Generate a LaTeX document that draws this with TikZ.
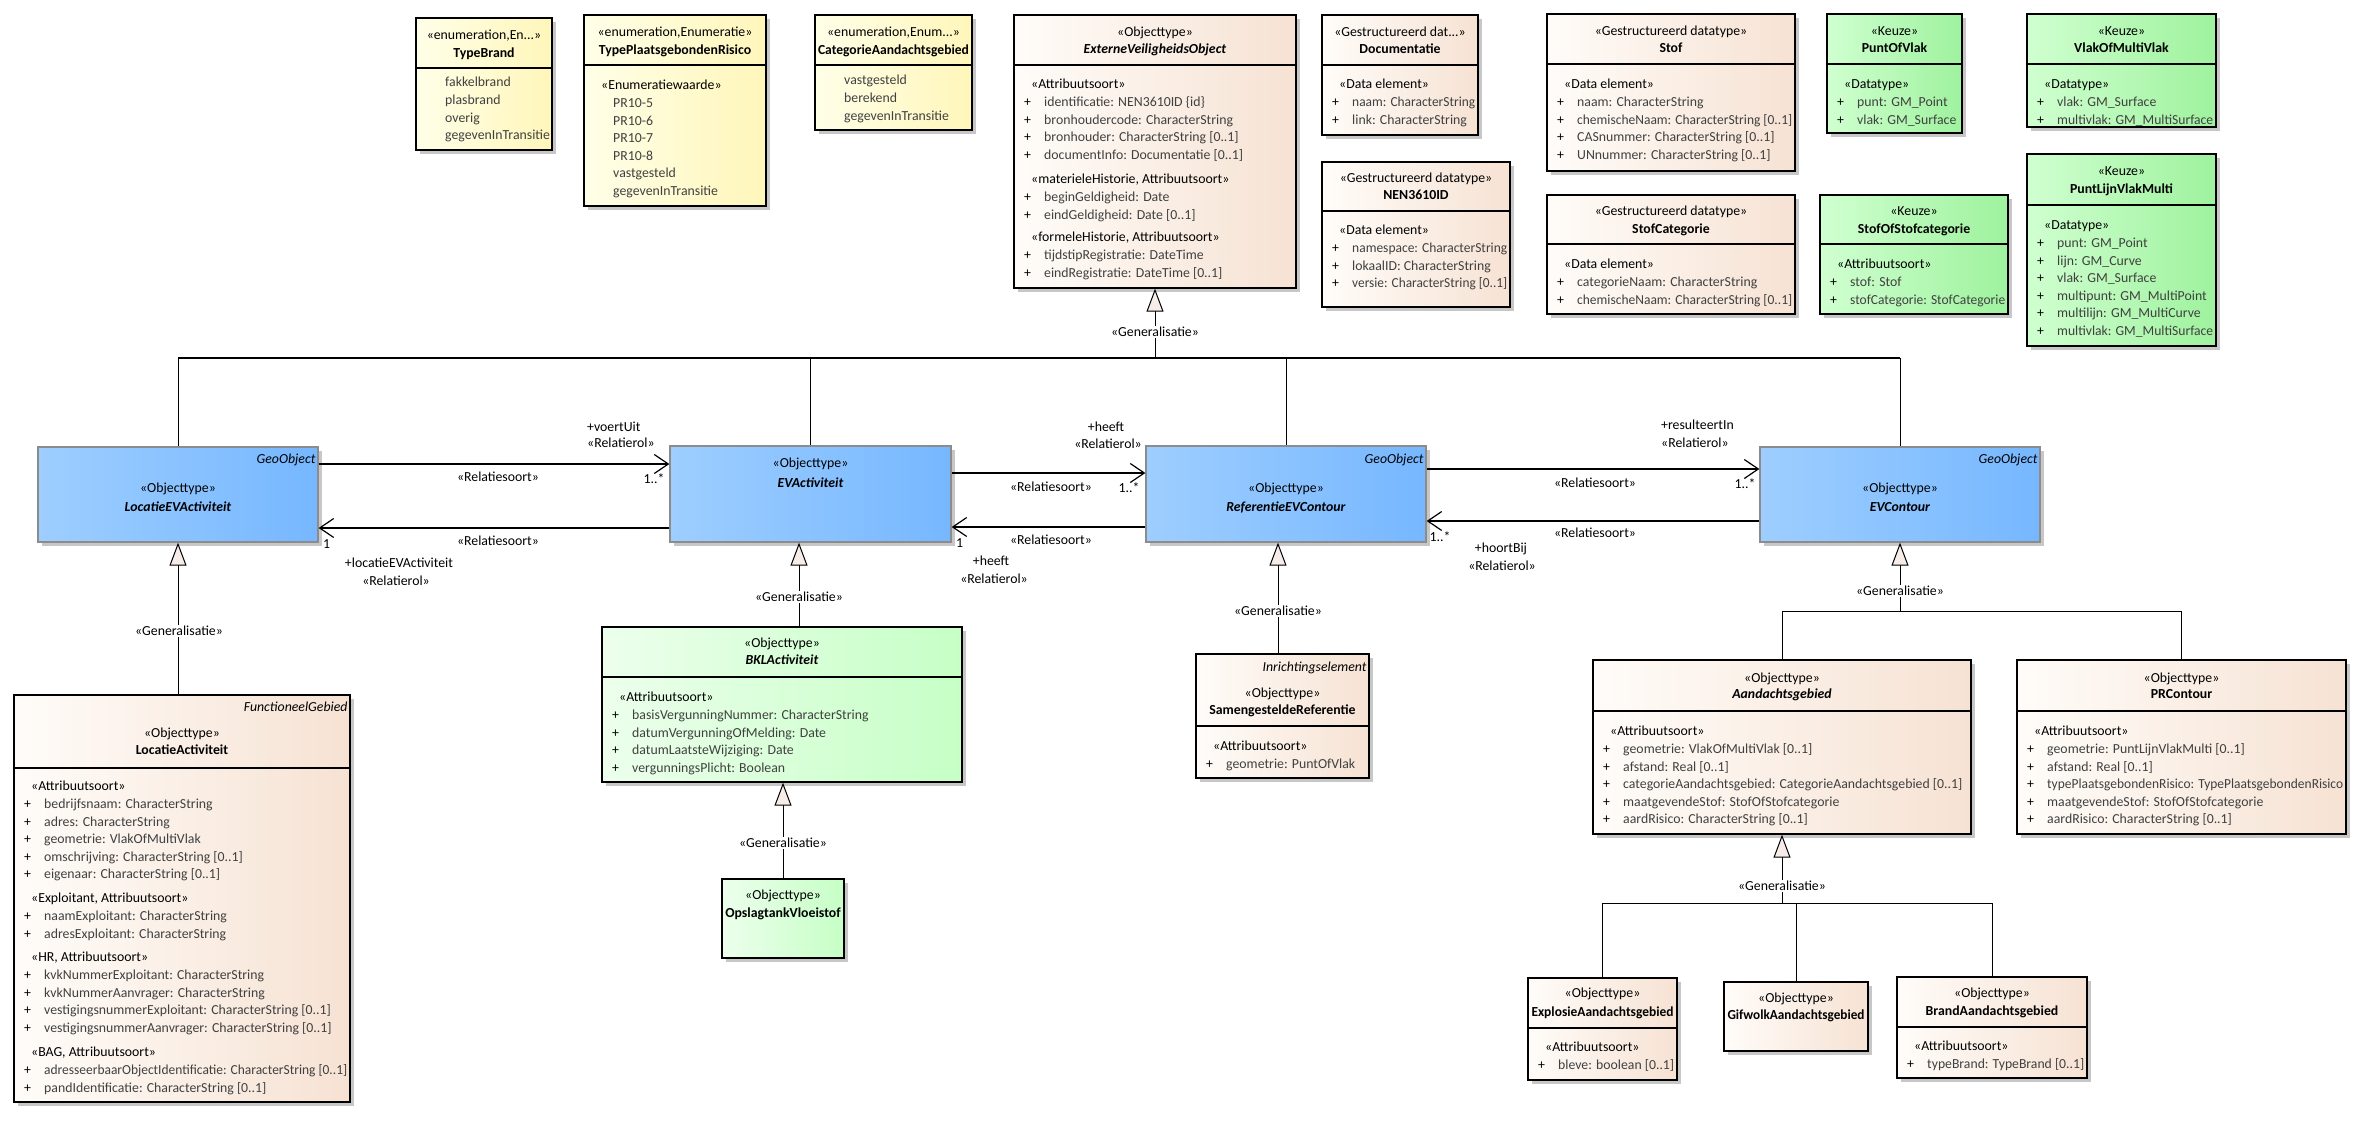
\documentclass[tikz,border=0pt]{standalone}
\usepackage{fontspec}
\setmainfont{Carlito}
\usepackage{graphicx}
\usetikzlibrary{arrows.meta,fit,shadows}

\definecolor{enumL}{RGB}{255,255,232}
\definecolor{enumR}{RGB}{255,246,186}
\definecolor{peachL}{RGB}{255,252,249}
\definecolor{peachR}{RGB}{246,226,211}
\definecolor{blueL}{RGB}{158,206,255}
\definecolor{blueR}{RGB}{118,183,255}
\definecolor{lgreenL}{RGB}{236,255,236}
\definecolor{lgreenR}{RGB}{198,255,198}
\definecolor{keuzeL}{RGB}{208,255,208}
\definecolor{keuzeR}{RGB}{158,242,158}
\definecolor{trif}{RGB}{246,236,232}
\definecolor{attrc}{RGB}{64,64,64}

\newsavebox\fitbox
\newcommand\fitw[2]{\sbox\fitbox{#2}\ifdim\wd\fitbox>#1\relax\resizebox{#1}{\height}{#2}\else\usebox\fitbox\fi}
\newcommand\stp[1]{\hspace*{7pt}«#1»}
\def\rowmax{500pt}
\newcommand\atr[1]{\makebox[20pt][l]{+}\textcolor{attrc}{\fitw{\rowmax}{#1}}}
\newcommand\enmi[1]{\hspace*{19pt}\textcolor{attrc}{#1}}

\newcount\rowc
\def\rowend{\relax}
\def\rowendm{\rowend}
\newcommand\umlrows[5]{\def\rown{#1}\def\rowx{#2}\def\rowy{#3}\edef\rowmax{\the\dimexpr #4pt-#2pt-23pt\relax}\rowc=0 \rowloop#5|\rowend|}
\def\rowloop#1|{\def\rowarg{#1}\ifx\rowarg\rowendm\let\rownext\relax\else\def\rownext{\rownode{#1}\advance\rowc by 1 \rowloop}\fi\rownext}
\def\rownode#1{\node[lt] (\rown-\the\rowc) at ({\rowx},{\rowy+17.6*\the\rowc+4.8}) {#1};}
\newcommand\hdiv[2]{\draw[divline] (#1.west |- 0,#2) -- (#1.east |- 0,#2);}

\tikzset{
  box/.style={draw=black, line width=1.3pt, inner sep=0pt,
    drop shadow={shadow xshift=4pt, shadow yshift=-4pt, fill=black!22, opacity=1}},
  enumbox/.style={box, left color=enumL, right color=enumR},
  peachbox/.style={box, left color=peachL, right color=peachR},
  bluebox/.style={box, draw=black!45, left color=blueL, right color=blueR},
  greenbox/.style={box, left color=lgreenL, right color=lgreenR},
  keuzebox/.style={box, left color=keuzeL, right color=keuzeR},
  divline/.style={draw=black, line width=1.3pt},
  hd/.style={anchor=base, inner sep=0pt, yshift=-4.8pt},
  tag/.style={anchor=base east, inner sep=0pt, xshift=-3pt, yshift=-4.8pt, font=\fontsize{13.8pt}{16pt}\selectfont\itshape},
  lt/.style={anchor=base west, inner sep=0pt},
  rl/.style={anchor=base, inner sep=0pt, yshift=-4.8pt},
  rlw/.style={anchor=base west, inner sep=0pt, yshift=-4.8pt},
  genlab/.style={fill=white, inner sep=1.5pt, anchor=center},
  gen/.style={draw=black, line width=1pt, -{Triangle[length=23pt, width=17pt, fill=trif]}},
  tree/.style={draw=black, line width=1pt},
  assoc/.style={draw=black, line width=1.4pt, -{Straight Barb[length=14pt, width=19pt, line width=1.2pt]}}
}

\begin{document}
\begin{tikzpicture}[x=1pt, y=-1pt, font=\fontsize{13.8pt}{16pt}\selectfont]
\fill[white] (0,0) rectangle (2370,1120);
\useasboundingbox (0,0) rectangle (2370,1120);

% ---------------- boxes
\node[enumbox, fit={(416,18) (552,150)}] (tbrand) {};
\node[enumbox, fit={(584,15) (766,206)}] (tpr) {};
\node[enumbox, fit={(815,15) (972,130)}] (cat) {};
\node[peachbox, fit={(1014,15) (1296,288)}] (evo) {};
\node[peachbox, fit={(1322,15) (1478,135)}] (doc) {};
\node[peachbox, fit={(1322,162) (1510,307)}] (nen) {};
\node[peachbox, fit={(1547,14) (1795,171)}] (stof) {};
\node[keuzebox, fit={(1827,14) (1962,133)}] (pov) {};
\node[keuzebox, fit={(2027,14) (2216,127)}] (vomv) {};
\node[peachbox, fit={(1547,195) (1795,314)}] (stcat) {};
\node[keuzebox, fit={(1820,195) (2008,314)}] (sosc) {};
\node[keuzebox, fit={(2027,154) (2216,346)}] (plvm) {};
\node[bluebox, fit={(38,447) (318,542)}] (levact) {};
\node[bluebox, fit={(670,446) (951,542)}] (evact) {};
\node[bluebox, fit={(1146,446) (1426,542)}] (refev) {};
\node[bluebox, fit={(1760,447) (2040,542)}] (evcont) {};
\node[peachbox, fit={(14,695) (350,1102)}] (lact) {};
\node[greenbox, fit={(602,627) (962,782)}] (bkl) {};
\node[greenbox, fit={(722,879) (844,958)}] (opsl) {};
\node[peachbox, fit={(1196,654) (1369,778)}] (sam) {};
\node[peachbox, fit={(1593,660) (1971,834)}] (aand) {};
\node[peachbox, fit={(2017,660) (2346,834)}] (prc) {};
\node[peachbox, fit={(1528,978) (1677,1080)}] (expl) {};
\node[peachbox, fit={(1724,982) (1868,1051)}] (gif) {};
\node[peachbox, fit={(1897,977) (2087,1078)}] (brand) {};

% ---------------- dividers
\hdiv{tbrand}{68}
\hdiv{tpr}{65}
\hdiv{cat}{65}
\hdiv{evo}{65}
\hdiv{doc}{65}
\hdiv{nen}{211}
\hdiv{stof}{64}
\hdiv{pov}{64}
\hdiv{vomv}{64}
\hdiv{stcat}{244}
\hdiv{sosc}{244}
\hdiv{plvm}{205}
\hdiv{lact}{768}
\hdiv{bkl}{677}
\hdiv{sam}{726}
\hdiv{aand}{711}
\hdiv{prc}{711}
\hdiv{expl}{1028}
\hdiv{brand}{1027}

% ---------------- headers
\node[hd] (tbrand-s) at (tbrand.center |- 0,35) {«enumeration,En...»};
\node[hd] (tbrand-n) at (tbrand.center |- 0,53) {\textbf{TypeBrand}};
\node[hd] (tpr-s) at (tpr.center |- 0,32) {«enumeration,Enumeratie»};
\node[hd] (tpr-n) at (tpr.center |- 0,50) {\textbf{\fitw{176pt}{TypePlaatsgebondenRisico}}};
\node[hd] (cat-s) at (cat.center |- 0,32) {«enumeration,Enum...»};
\node[hd] (cat-n) at (cat.center |- 0,50) {\textbf{\fitw{151pt}{CategorieAandachtsgebied}}};
\node[hd] (evo-s) at (evo.center |- 0,32) {«Objecttype»};
\node[hd] (evo-n) at (evo.center |- 0,49) {\textbf{\textit{ExterneVeiligheidsObject}}};
\node[hd] (doc-s) at (doc.center |- 0,32) {«Gestructureerd dat...»};
\node[hd] (doc-n) at (doc.center |- 0,49) {\textbf{Documentatie}};
\node[hd] (nen-s) at (nen.center |- 0,178) {«Gestructureerd datatype»};
\node[hd] (nen-n) at (nen.center |- 0,195) {\textbf{NEN3610ID}};
\node[hd] (stof-s) at (stof.center |- 0,31) {«Gestructureerd datatype»};
\node[hd] (stof-n) at (stof.center |- 0,48) {\textbf{Stof}};
\node[hd] (pov-s) at (pov.center |- 0,31) {«Keuze»};
\node[hd] (pov-n) at (pov.center |- 0,48) {\textbf{PuntOfVlak}};
\node[hd] (vomv-s) at (vomv.center |- 0,31) {«Keuze»};
\node[hd] (vomv-n) at (vomv.center |- 0,48) {\textbf{VlakOfMultiVlak}};
\node[hd] (stcat-s) at (stcat.center |- 0,211) {«Gestructureerd datatype»};
\node[hd] (stcat-n) at (stcat.center |- 0,229) {\textbf{StofCategorie}};
\node[hd] (sosc-s) at (sosc.center |- 0,211) {«Keuze»};
\node[hd] (sosc-n) at (sosc.center |- 0,229) {\textbf{StofOfStofcategorie}};
\node[hd] (plvm-s) at (plvm.center |- 0,171) {«Keuze»};
\node[hd] (plvm-n) at (plvm.center |- 0,189) {\textbf{PuntLijnVlakMulti}};

\node[tag] (levact-g) at (levact.east |- 0,459) {GeoObject};
\node[hd] (levact-s) at (levact.center |- 0,488) {«Objecttype»};
\node[hd] (levact-n) at (levact.center |- 0,507) {\textbf{\textit{LocatieEVActiviteit}}};
\node[hd] (evact-s) at (evact.center |- 0,463) {«Objecttype»};
\node[hd] (evact-n) at (evact.center |- 0,483) {\textbf{\textit{EVActiviteit}}};
\node[tag] (refev-g) at (refev.east |- 0,459) {GeoObject};
\node[hd] (refev-s) at (refev.center |- 0,488) {«Objecttype»};
\node[hd] (refev-n) at (refev.center |- 0,507) {\textbf{\textit{ReferentieEVContour}}};
\node[tag] (evcont-g) at (evcont.east |- 0,459) {GeoObject};
\node[hd] (evcont-s) at (evcont.center |- 0,488) {«Objecttype»};
\node[hd] (evcont-n) at (evcont.center |- 0,507) {\textbf{\textit{EVContour}}};

\node[tag] (lact-g) at (lact.east |- 0,707) {FunctioneelGebied};
\node[hd] (lact-s) at (lact.center |- 0,733) {«Objecttype»};
\node[hd] (lact-n) at (lact.center |- 0,750) {\textbf{LocatieActiviteit}};
\node[hd] (bkl-s) at (bkl.center |- 0,643) {«Objecttype»};
\node[hd] (bkl-n) at (bkl.center |- 0,660) {\textbf{\textit{BKLActiviteit}}};
\node[hd] (opsl-s) at (opsl.center |- 0,895) {«Objecttype»};
\node[hd] (opsl-n) at (opsl.center |- 0,913) {\textbf{\fitw{117pt}{OpslagtankVloeistof}}};
\node[tag] (sam-g) at (sam.east |- 0,667) {Inrichtingselement};
\node[hd] (sam-s) at (sam.center |- 0,693) {«Objecttype»};
\node[hd] (sam-n) at (sam.center |- 0,710) {\textbf{\fitw{166pt}{SamengesteldeReferentie}}};
\node[hd] (aand-s) at (aand.center |- 0,678) {«Objecttype»};
\node[hd] (aand-n) at (aand.center |- 0,694) {\textbf{\textit{Aandachtsgebied}}};
\node[hd] (prc-s) at (prc.center |- 0,678) {«Objecttype»};
\node[hd] (prc-n) at (prc.center |- 0,694) {\textbf{PRContour}};
\node[hd] (expl-s) at (expl.center |- 0,993) {«Objecttype»};
\node[hd] (expl-n) at (expl.center |- 0,1012) {\textbf{\fitw{142pt}{ExplosieAandachtsgebied}}};
\node[hd] (gif-s) at (gif.center |- 0,998) {«Objecttype»};
\node[hd] (gif-n) at (gif.center |- 0,1015) {\textbf{\fitw{137pt}{GifwolkAandachtsgebied}}};
\node[hd] (brand-s) at (brand.center |- 0,993) {«Objecttype»};
\node[hd] (brand-n) at (brand.center |- 0,1011) {\textbf{\fitw{184pt}{BrandAandachtsgebied}}};

% ---------------- compartments
\umlrows{tbrand-v}{426}{82}{552}{\enmi{fakkelbrand}|\enmi{plasbrand}|\enmi{overig}|\enmi{gegevenInTransitie}}
\umlrows{tpr-v}{594}{85}{766}{\stp{Enumeratiewaarde}|\enmi{PR10-5}|\enmi{PR10-6}|\enmi{PR10-7}|\enmi{PR10-8}|\enmi{vastgesteld}|\enmi{gegevenInTransitie}}
\umlrows{cat-v}{825}{80}{972}{\enmi{vastgesteld}|\enmi{berekend}|\enmi{gegevenInTransitie}}

\umlrows{evo-a}{1024}{84}{1296}{\stp{Attribuutsoort}|\atr{identificatie: NEN3610ID \{id\}}|\atr{bronhoudercode: CharacterString}|\atr{bronhouder: CharacterString [0..1]}|\atr{documentInfo: Documentatie [0..1]}}
\umlrows{evo-b}{1024}{179}{1296}{\stp{materieleHistorie, Attribuutsoort}|\atr{beginGeldigheid: Date}|\atr{eindGeldigheid: Date [0..1]}}
\umlrows{evo-c}{1024}{237}{1296}{\stp{formeleHistorie, Attribuutsoort}|\atr{tijdstipRegistratie: DateTime}|\atr{eindRegistratie: DateTime [0..1]}}

\umlrows{doc-a}{1332}{84}{1478}{\stp{Data element}|\atr{naam: CharacterString}|\atr{link: CharacterString}}
\umlrows{nen-a}{1332}{230}{1510}{\stp{Data element}|\atr{namespace: CharacterString}|\atr{lokaalID: CharacterString}|\atr{versie: CharacterString [0..1]}}
\umlrows{stof-a}{1557}{84}{1795}{\stp{Data element}|\atr{naam: CharacterString}|\atr{chemischeNaam: CharacterString [0..1]}|\atr{CASnummer: CharacterString [0..1]}|\atr{UNnummer: CharacterString [0..1]}}
\umlrows{pov-a}{1837}{84}{1962}{\stp{Datatype}|\atr{punt: GM\_Point}|\atr{vlak: GM\_Surface}}
\umlrows{vomv-a}{2037}{84}{2216}{\stp{Datatype}|\atr{vlak: GM\_Surface}|\atr{multivlak: GM\_MultiSurface}}
\umlrows{stcat-a}{1557}{264}{1795}{\stp{Data element}|\atr{categorieNaam: CharacterString}|\atr{chemischeNaam: CharacterString [0..1]}}
\umlrows{sosc-a}{1830}{264}{2008}{\stp{Attribuutsoort}|\atr{stof: Stof}|\atr{stofCategorie: StofCategorie}}
\umlrows{plvm-a}{2037}{225}{2216}{\stp{Datatype}|\atr{punt: GM\_Point}|\atr{lijn: GM\_Curve}|\atr{vlak: GM\_Surface}|\atr{multipunt: GM\_MultiPoint}|\atr{multilijn: GM\_MultiCurve}|\atr{multivlak: GM\_MultiSurface}}

\umlrows{lact-a}{24}{786}{350}{\stp{Attribuutsoort}|\atr{bedrijfsnaam: CharacterString}|\atr{adres: CharacterString}|\atr{geometrie: VlakOfMultiVlak}|\atr{omschrijving: CharacterString [0..1]}|\atr{eigenaar: CharacterString [0..1]}}
\umlrows{lact-b}{24}{898}{350}{\stp{Exploitant, Attribuutsoort}|\atr{naamExploitant: CharacterString}|\atr{adresExploitant: CharacterString}}
\umlrows{lact-c}{24}{957}{350}{\stp{HR, Attribuutsoort}|\atr{kvkNummerExploitant: CharacterString}|\atr{kvkNummerAanvrager: CharacterString}|\atr{vestigingsnummerExploitant: CharacterString [0..1]}|\atr{vestigingsnummerAanvrager: CharacterString [0..1]}}
\umlrows{lact-d}{24}{1052}{350}{\stp{BAG, Attribuutsoort}|\atr{adresseerbaarObjectIdentificatie: CharacterString [0..1]}|\atr{pandIdentificatie: CharacterString [0..1]}}

\umlrows{bkl-a}{612}{697}{962}{\stp{Attribuutsoort}|\atr{basisVergunningNummer: CharacterString}|\atr{datumVergunningOfMelding: Date}|\atr{datumLaatsteWijziging: Date}|\atr{vergunningsPlicht: Boolean}}
\umlrows{sam-a}{1206}{746}{1369}{\stp{Attribuutsoort}|\atr{geometrie: PuntOfVlak}}
\umlrows{aand-a}{1603}{731}{1971}{\stp{Attribuutsoort}|\atr{geometrie: VlakOfMultiVlak [0..1]}|\atr{afstand: Real [0..1]}|\atr{categorieAandachtsgebied: CategorieAandachtsgebied [0..1]}|\atr{maatgevendeStof: StofOfStofcategorie}|\atr{aardRisico: CharacterString [0..1]}}
\umlrows{prc-a}{2027}{731}{2346}{\stp{Attribuutsoort}|\atr{geometrie: PuntLijnVlakMulti [0..1]}|\atr{afstand: Real [0..1]}|\atr{typePlaatsgebondenRisico: TypePlaatsgebondenRisico}|\atr{maatgevendeStof: StofOfStofcategorie}|\atr{aardRisico: CharacterString [0..1]}}
\umlrows{expl-a}{1538}{1047}{1677}{\stp{Attribuutsoort}|\atr{bleve: boolean [0..1]}}
\umlrows{brand-a}{1907}{1046}{2087}{\stp{Attribuutsoort}|\atr{typeBrand: TypeBrand [0..1]}}

% ---------------- generalisation tree under ExterneVeiligheidsObject
\coordinate (busj) at (1155,358);
\draw[tree, line width=1.8pt] (levact.north |- busj) -- (evcont.north |- busj);
\draw[gen] (busj) -- (evo.south);
\draw[tree] (levact.north |- busj) -- (levact.north);
\draw[tree] (evact.north |- busj) -- (evact.north);
\draw[tree] (refev.north |- busj) -- (refev.north);
\draw[tree] (evcont.north |- busj) -- (evcont.north);
\node[genlab] (gl1) at (1155,332) {«Generalisatie»};

% other generalisations
\draw[gen] (lact.north -| levact.south) -- (levact.south);
\node[genlab] (gl2) at (179,631) {«Generalisatie»};
\draw[gen] (bkl.north -| 799,0) -- (evact.south -| 799,0);
\node[genlab] (gl3) at (799,597) {«Generalisatie»};
\draw[gen] (opsl.north) -- (bkl.south -| opsl.north);
\node[genlab] (gl4) at (783,843) {«Generalisatie»};
\draw[gen] (sam.north -| 1278,0) -- (refev.south -| 1278,0);
\node[genlab] (gl5) at (1278,611) {«Generalisatie»};

\coordinate (evj) at (1900,611);
\draw[gen] (evj) -- (evcont.south);
\draw[tree] (aand.north |- evj) -- (prc.north |- evj);
\draw[tree] (aand.north |- evj) -- (aand.north);
\draw[tree] (prc.north |- evj) -- (prc.north);
\node[genlab] (gl6) at (1900,591) {«Generalisatie»};

\coordinate (aj) at (1782,903);
\draw[gen] (aj) -- (aand.south);
\draw[tree] (expl.north |- aj) -- (brand.north |- aj);
\draw[tree] (expl.north |- aj) -- (expl.north);
\draw[tree] (gif.north |- aj) -- (gif.north);
\draw[tree] (brand.north |- aj) -- (brand.north);
\node[genlab] (gl7) at (1782,886) {«Generalisatie»};

% ---------------- associations
\draw[assoc] (levact.east |- 0,464) -- (evact.west |- 0,464);
\draw[assoc] (evact.west |- 0,528) -- (levact.east |- 0,528);
\draw[assoc] (evact.east |- 0,473) -- (refev.west |- 0,473);
\draw[assoc] (refev.west |- 0,527) -- (evact.east |- 0,527);
\draw[assoc] (refev.east |- 0,469) -- (evcont.west |- 0,469);
\draw[assoc] (evcont.west |- 0,521) -- (refev.east |- 0,521);

\node[rlw] (r1-role) at (587,427) {+voertUit};
\node[rlw] (r1-rr) at (587,443) {«Relatierol»};
\node[rl] (r1-rs) at (498,477) {«Relatiesoort»};
\node[rl] (r1-m) at (654,479) {1..*};
\node[rl] (r2-rs) at (498,541) {«Relatiesoort»};
\node[rlw] (r2-m) at (323,544) {1};
\node[rl] (r2-role) at (399,563) {+locatieEVActiviteit};
\node[rl] (r2-rr) at (396,581) {«Relatierol»};

\node[rl] (r3-role) at (1106,427) {+heeft};
\node[rl] (r3-rr) at (1108,444) {«Relatierol»};
\node[rl] (r3-rs) at (1051,487) {«Relatiesoort»};
\node[rl] (r3-m) at (1129,488) {1..*};
\node[rl] (r4-rs) at (1051,540) {«Relatiesoort»};
\node[rlw] (r4-m) at (956,543) {1};
\node[rl] (r4-role) at (991,561) {+heeft};
\node[rl] (r4-rr) at (994,579) {«Relatierol»};

\node[rlw] (r5-role) at (1661,425) {+resulteertIn};
\node[rlw] (r5-rr) at (1661,443) {«Relatierol»};
\node[rl] (r5-rs) at (1595,483) {«Relatiesoort»};
\node[rl] (r5-m) at (1745,484) {1..*};
\node[rl] (r6-rs) at (1595,533) {«Relatiesoort»};
\node[rl] (r6-m) at (1440,537) {1..*};
\node[rl] (r6-role) at (1501,548) {+hoortBij};
\node[rl] (r6-rr) at (1502,566) {«Relatierol»};
\end{tikzpicture}
\end{document}
